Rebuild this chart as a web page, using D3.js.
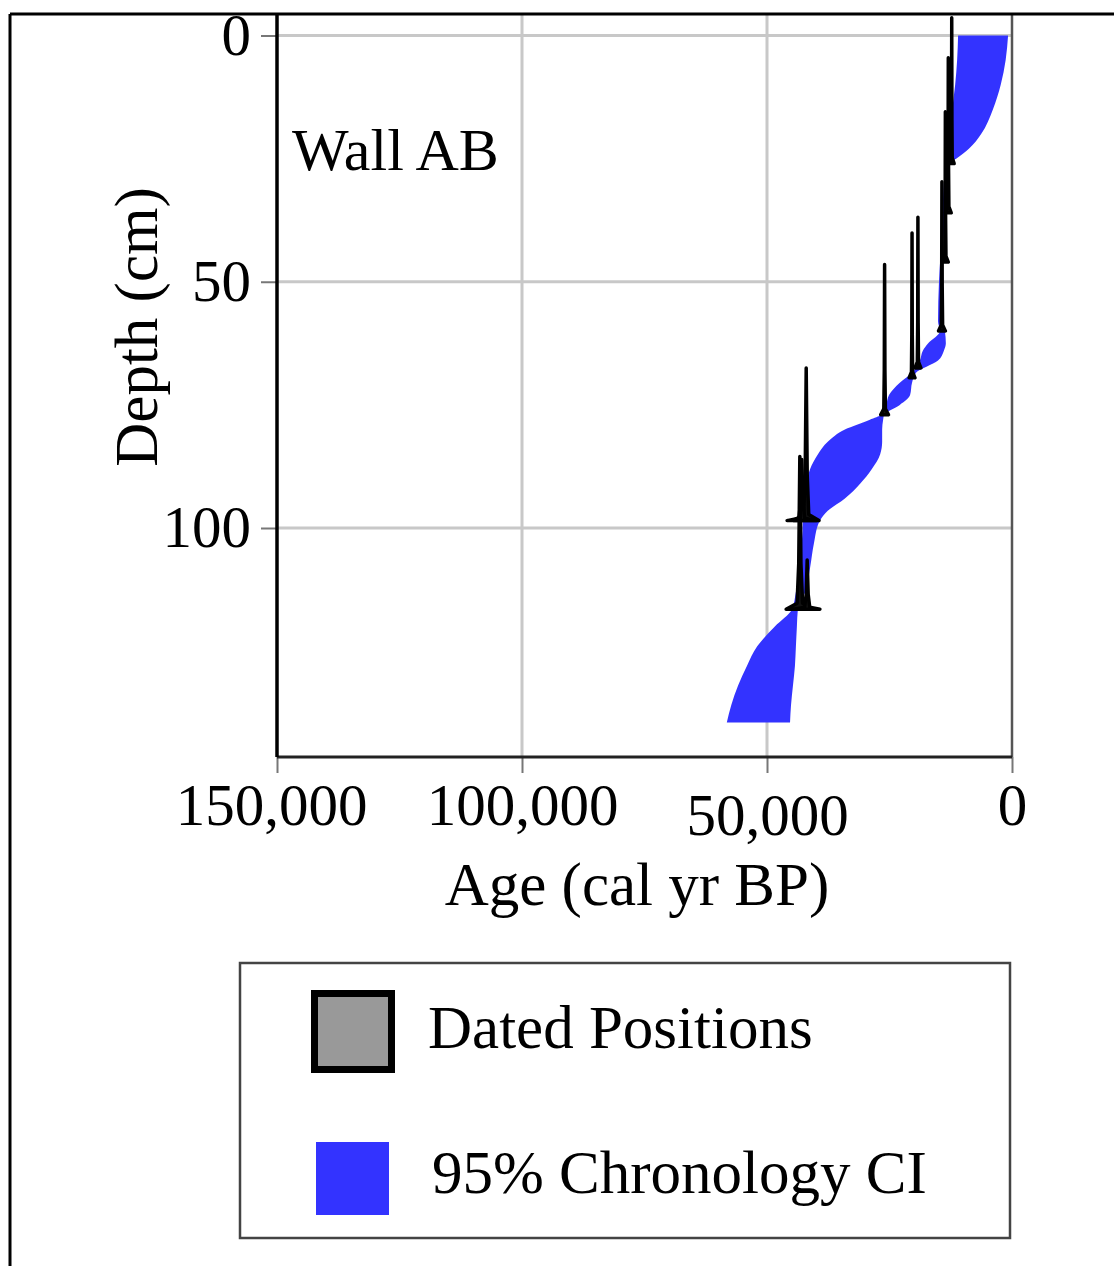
<!DOCTYPE html>
<html>
<head>
<meta charset="utf-8">
<script src="https://cdn.jsdelivr.net/npm/d3@7"></script>
<style>
    html, body { margin: 0; padding: 0; background: #fff; }
    svg { display: block; }
    text { font-family: "Liberation Serif", "Times New Roman", serif; fill: #000; }
</style>
</head>
<body>
<svg id="chart" width="1114" height="1266"></svg>
<script>
'use strict';

// 95% chronology interval: depth (cm) with youngest / oldest age (cal yr BP)
const ciDepth = [0, 5, 10, 15, 20, 23, 25, 26, 30, 40, 50, 58, 60, 62.5, 64, 66, 68.5, 70.5, 73, 75, 77, 78, 80, 82.5, 85, 88, 91, 94, 96.5, 98.5, 103, 108, 113, 116.5, 120, 124, 128, 132, 136, 139.5];
const ciYoung = [800, 1300, 2300, 3900, 6300, 8800, 11400, 12900, 13400, 13900, 14500, 14100, 13700, 13500, 13900, 15100, 19600, 20400, 20800, 22900, 26100, 26300, 26500, 26500, 26900, 28600, 31000, 34100, 37600, 39200, 40400, 41200, 42200, 43700, 43900, 44100, 44300, 44700, 45100, 45300];
const ciOld = [11000, 11200, 11600, 12200, 12650, 12850, 13050, 13200, 13900, 14300, 14900, 15100, 14700, 17100, 18200, 18800, 20400, 22900, 25100, 25700, 26700, 29000, 34100, 37600, 39600, 41200, 42000, 42400, 42700, 42700, 42900, 43300, 44100, 44900, 48400, 52000, 54100, 55900, 57300, 58200];

// dated positions: depth (cm), age (cal yr BP), half spread at base (yr), peak height (cm)
const dateDepth = [26, 36, 46, 60, 67.5, 69.5, 77, 98.5, 98.5, 116.5, 116.5];
const dateAge = [12300, 13000, 13600, 14300, 19200, 20400, 26000, 42000, 42900, 43300, 41800];
const dateSpread = [500, 600, 600, 700, 600, 600, 800, 2600, 3000, 2800, 2600];
const dateHeight = [29.6, 31.5, 30.5, 30.3, 30.6, 29.4, 30.5, 31, 12.4, 31, 10];

const ageTicks = [150000, 100000, 50000, 0];
const depthTicks = [0, 50, 100];

const COLORS = {
    band: '#3333ff',
    grid: '#c8c8c8',
    dateFill: '#999999'
};

const svg = d3.select('#chart');
const plot = { left: 277, right: 1012, top: 14, bottom: 757 };

const x = d3.scaleLinear().domain([150000, 0]).range([plot.left, plot.right]);
const y = d3.scaleLinear().domain([0, 100]).range([35.5, 528]);

svg.append('rect').attr('width', 1114).attr('height', 1266).attr('fill', '#fff');

// grid
svg.append('g').selectAll('line')
    .data(ageTicks.filter((t) => t !== 150000 && t !== 0))
    .enter().append('line')
    .attr('x1', (d) => x(d)).attr('x2', (d) => x(d))
    .attr('y1', plot.top).attr('y2', plot.bottom)
    .attr('stroke', COLORS.grid).attr('stroke-width', 3);

svg.append('g').selectAll('line')
    .data(depthTicks)
    .enter().append('line')
    .attr('x1', plot.left).attr('x2', plot.right)
    .attr('y1', (d) => y(d)).attr('y2', (d) => y(d))
    .attr('stroke', COLORS.grid).attr('stroke-width', 3);

// chronology band
let band = ciDepth.map((d, i) => ({ depth: d, young: ciYoung[i], old: ciOld[i] }));

svg.append('path')
    .datum(band)
    .attr('fill', COLORS.band)
    .attr('d', d3.area()
        .curve(d3.curveMonotoneY)
        .y((d) => y(d.depth))
        .x0((d) => x(d.young))
        .x1((d) => x(d.old)));

// dated positions, drawn as thin spikes rising from their depth
let dates = dateDepth.map((d, i) => ({ depth: d, age: dateAge[i], spread: dateSpread[i], height: dateHeight[i] }));

svg.append('g').selectAll('path')
    .data(dates)
    .enter().append('path')
    .attr('fill', '#111')
    .attr('stroke', '#000')
    .attr('stroke-width', 3.5)
    .attr('stroke-linejoin', 'round')
    .attr('d', (d) => {
        let pts = [
            [d.age + d.spread, d.depth],
            [d.age + d.spread * 0.2, d.depth - d.height * 0.04],
            [d.age + d.spread * 0.08, d.depth - d.height * 0.3],
            [d.age, d.depth - d.height],
            [d.age - d.spread * 0.08, d.depth - d.height * 0.3],
            [d.age - d.spread * 0.2, d.depth - d.height * 0.04],
            [d.age - d.spread, d.depth]
        ];
        return d3.line().x((p) => x(p[0])).y((p) => y(p[1]))(pts) + 'Z';
    });

// axes
let yAxis = svg.append('g')
    .attr('transform', `translate(${plot.left},0)`)
    .call(d3.axisLeft(y).tickValues(depthTicks).tickSize(16).tickPadding(10).tickSizeOuter(0));

let xAxis = svg.append('g')
    .attr('transform', `translate(0,${plot.bottom})`)
    .call(d3.axisBottom(x).tickValues(ageTicks).tickFormat(d3.format(',')).tickSize(16).tickPadding(10).tickSizeOuter(0));

[xAxis, yAxis].forEach((ax) => {
    ax.select('.domain').remove();
    ax.selectAll('.tick line').attr('stroke', '#777').attr('stroke-width', 2);
    ax.selectAll('.tick text').attr('font-size', 59).attr('fill', '#000')
        .style('font-family', '"Liberation Serif", "Times New Roman", serif');
});

// the 50,000 label sits a little lower in the original
xAxis.selectAll('.tick text').filter((d) => d === 50000).attr('dy', '0.88em');
xAxis.selectAll('.tick text').filter((d) => d === 150000).attr('dx', -6);

// plot frame
svg.append('line')
    .attr('x1', plot.right).attr('x2', plot.right)
    .attr('y1', plot.top).attr('y2', plot.bottom)
    .attr('stroke', '#555').attr('stroke-width', 2.5);
svg.append('line')
    .attr('x1', plot.left).attr('x2', plot.right)
    .attr('y1', plot.bottom).attr('y2', plot.bottom)
    .attr('stroke', '#222').attr('stroke-width', 3);
svg.append('line')
    .attr('x1', plot.left).attr('x2', plot.left)
    .attr('y1', plot.top).attr('y2', plot.bottom)
    .attr('stroke', '#000').attr('stroke-width', 3.5);

// outer figure frame
svg.append('line')
    .attr('x1', 10).attr('x2', 1114).attr('y1', 14).attr('y2', 14)
    .attr('stroke', '#000').attr('stroke-width', 3);
svg.append('line')
    .attr('x1', 10).attr('x2', 10).attr('y1', 14).attr('y2', 1266)
    .attr('stroke', '#000').attr('stroke-width', 3);

// labels
svg.append('text')
    .attr('x', 292).attr('y', 170)
    .attr('font-size', 60)
    .text('Wall AB');

svg.append('text')
    .attr('x', 637).attr('y', 905)
    .attr('text-anchor', 'middle')
    .attr('font-size', 61)
    .text('Age (cal yr BP)');

svg.append('text')
    .attr('transform', 'translate(157,327) rotate(-90)')
    .attr('text-anchor', 'middle')
    .attr('font-size', 61)
    .text('Depth (cm)');

// legend
let legend = svg.append('g');

legend.append('rect')
    .attr('x', 240).attr('y', 963).attr('width', 770).attr('height', 275)
    .attr('fill', '#fff').attr('stroke', '#444').attr('stroke-width', 2.5);

legend.append('rect')
    .attr('x', 314.5).attr('y', 993.5).attr('width', 77).attr('height', 76)
    .attr('fill', COLORS.dateFill).attr('stroke', '#000').attr('stroke-width', 7);

legend.append('text')
    .attr('x', 428).attr('y', 1048)
    .attr('font-size', 61)
    .text('Dated Positions');

legend.append('rect')
    .attr('x', 316).attr('y', 1142).attr('width', 73).attr('height', 73)
    .attr('fill', COLORS.band);

legend.append('text')
    .attr('x', 432).attr('y', 1193)
    .attr('font-size', 61)
    .text('95% Chronology CI');
</script>
</body>
</html>
